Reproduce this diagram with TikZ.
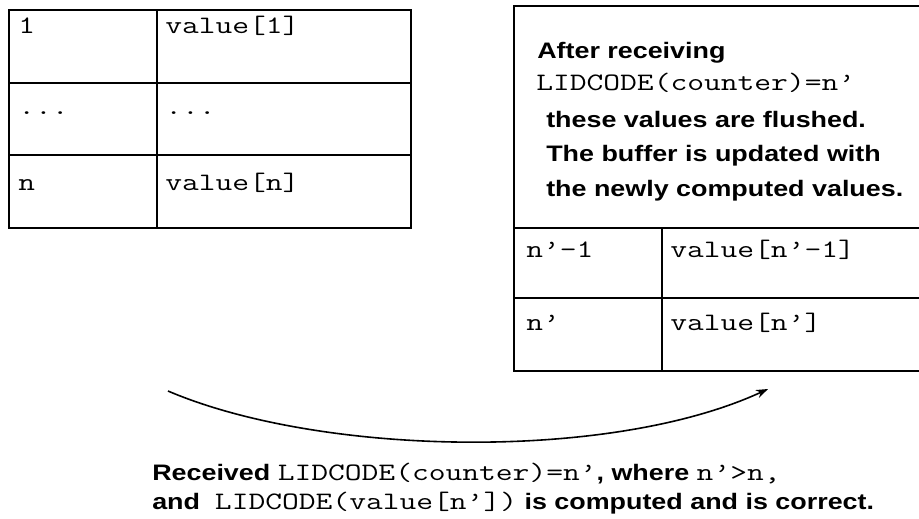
\documentclass[tikz,border=0pt]{standalone}
\usepackage{fontspec}
\setmonofont{Latin Modern Mono}[FakeStretch=1.3]
\newfontfamily\notefamily{Liberation Sans}[FakeStretch=1.2]
\usetikzlibrary{arrows.meta}
\newcommand{\monotext}{\ttfamily\mdseries\fontsize{18.8}{22}\selectfont}
\newcommand{\notetext}{\notefamily\bfseries\fontsize{16.8}{20}\selectfont}

\begin{document}
\begin{tikzpicture}[>={Stealth[length=9pt,width=6.5pt]}, x=0.75pt, y=-0.75pt,
  frame/.style={line width=2pt},
  rule/.style={line width=1.2pt},
  cell/.style={anchor=base west, inner sep=0pt, font=\monotext},
  note/.style={anchor=base west, inner sep=0pt, font=\notetext}]
\useasboundingbox (0,0) rectangle (919,518);
% Buffer before the update
\draw [frame] (9,10) rectangle (411,228);
\draw [rule] (9,83) -- (411,83);
\draw [rule] (9,155) -- (411,155);
\draw [rule] (157,10) -- (157,228);
\node [cell] (key1) at (18,33) {1};
\node [cell] (val1) at (165,33) {value[1]};
\node [cell] (keydots) at (18,114) {...};
\node [cell] (valdots) at (165,114) {...};
\node [cell] (keyn) at (18,190) {n};
\node [cell] (valn) at (165,190) {value[n]};
% Buffer after the update (right edge runs off the page)
\draw [frame] (924,6) -- (514,6) -- (514,371) -- (924,371);
\draw [frame] (514,228) -- (924,228);
\draw [rule] (514,298) -- (924,298);
\draw [rule] (662,228) -- (662,371);
\node [note] (after) at (537,58) {After receiving};
\node [cell] (counter) at (536,90) {LIDCODE(counter)=n’};
\node [note] (flushed) at (546,127) {these values are flushed.};
\node [note] (updated) at (546,161) {The buffer is updated with};
\node [note] (newly) at (546,196) {the newly computed values.};
\node [cell] (keyprev) at (526,257) {n’-1};
\node [cell] (valprev) at (670,257) {value[n’-1]};
\node [cell] (keynew) at (526,330) {n’};
\node [cell] (valnew) at (670,330) {value[n’]};
% Update step
\coordinate (from) at (168,391);
\coordinate (to) at (768,389);
\draw [->, line width=1.2pt] (from) .. controls (320,456) and (610,462) .. (to);
\node [note] (received) at (152,480)
  {Received {\monotext LIDCODE(counter)=n’}, where {\monotext n’>n,}};
\node [note] (computed) at (152,509)
  {and\ \ {\monotext LIDCODE(value[n’])} is computed and is correct.};
\end{tikzpicture}
\end{document}
